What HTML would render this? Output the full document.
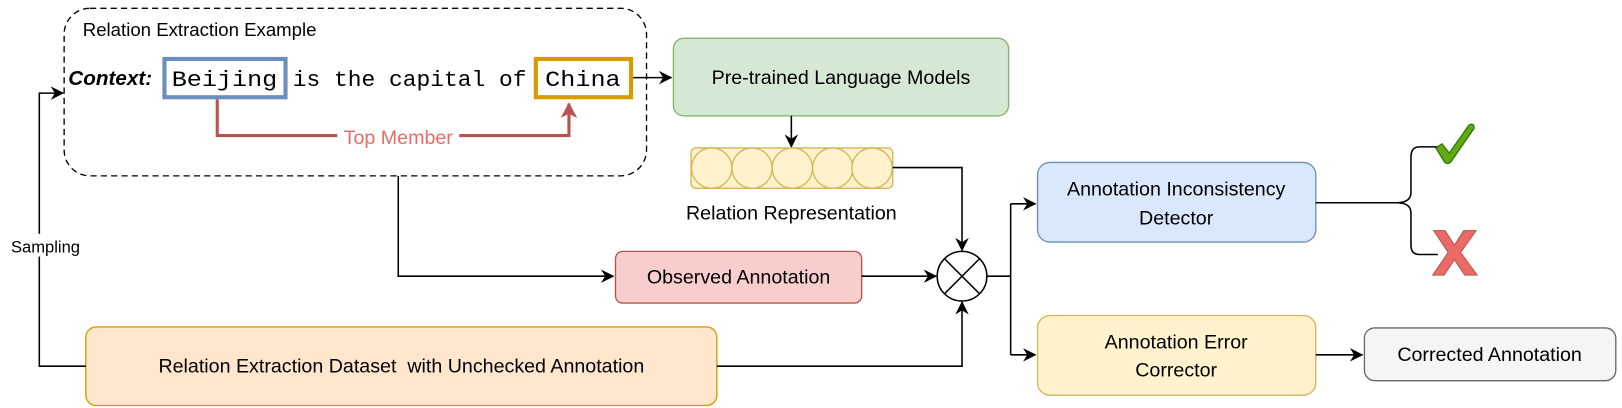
<!DOCTYPE html>
<html><head><meta charset="utf-8"><style>
html,body{margin:0;padding:0;background:#fff;width:1622px;height:408px;overflow:hidden}
svg{display:block}
text{font-family:"Liberation Sans",sans-serif;}
.m{font-family:"Liberation Mono",monospace}
</style></head><body>
<svg width="1622" height="408" viewBox="0 0 1568 394.4" xmlns="http://www.w3.org/2000/svg">
<defs>
<marker id="a" markerWidth="13" markerHeight="13" refX="12" refY="6.5" orient="auto" markerUnits="userSpaceOnUse"><path d="M0,0 L13,6.5 L0,13 L4,6.5 Z" fill="#000"/></marker>
<marker id="r" markerWidth="16" markerHeight="16" refX="14" refY="8" orient="auto" markerUnits="userSpaceOnUse"><path d="M0,0 L15,8 L0,16 L4,8 Z" fill="#b85450"/></marker>
</defs>
<rect x="62" y="8" width="563" height="162" rx="25" fill="none" stroke="#000" stroke-width="1.3" stroke-dasharray="6,4"/>
<text x="80" y="35" font-size="18">Relation Extraction Example</text>
<text x="66" y="82" font-size="20" font-weight="bold" font-style="italic">Context:</text>
<rect x="159" y="57" width="117" height="37" fill="#fff" stroke="#6c8ebf" stroke-width="4"/>
<rect x="518" y="57" width="92" height="37" fill="#fff" stroke="#d79b00" stroke-width="4"/>
<text x="166" y="83" font-size="21" class="m" textLength="102" lengthAdjust="spacingAndGlyphs">Beijing</text>
<text x="283" y="83" font-size="21" class="m" textLength="226" lengthAdjust="spacingAndGlyphs">is the capital of</text>
<text x="527" y="83" font-size="21" class="m" textLength="73" lengthAdjust="spacingAndGlyphs">China</text>
<path d="M210,96 V131 H550 V100" fill="none" stroke="#b85450" stroke-width="3" marker-end="url(#r)"/>
<rect x="326" y="120" width="118" height="22" fill="#fff"/>
<text x="385" y="139" font-size="19" fill="#ea6b66" text-anchor="middle">Top Member</text>
<path d="M612,75 H649" stroke="#000" stroke-width="1.5" marker-end="url(#a)"/>
<rect x="651" y="37" width="324" height="75" rx="10" fill="#d5e8d4" stroke="#82b366" stroke-width="1.3"/>
<text x="813" y="81" font-size="19" text-anchor="middle">Pre-trained Language Models</text>
<path d="M765,112 V142" stroke="#000" stroke-width="1.5" marker-end="url(#a)"/>
<rect x="668" y="143" width="195" height="39" rx="5" fill="#fff2cc" stroke="#d6b656" stroke-width="1.3"/>
<g fill="#fff2cc" stroke="#d6b656" stroke-width="1.3">
<circle cx="688" cy="162.5" r="19.5"/><circle cx="727" cy="162.5" r="19.5"/><circle cx="766" cy="162.5" r="19.5"/><circle cx="805" cy="162.5" r="19.5"/><circle cx="843" cy="162.5" r="19.5"/>
</g>
<text x="765" y="212" font-size="19" text-anchor="middle">Relation Representation</text>
<path d="M863,162 H930 V242" fill="none" stroke="#000" stroke-width="1.5" marker-end="url(#a)"/>
<circle cx="930" cy="267" r="24" fill="#fff" stroke="#000" stroke-width="1.5"/>
<path d="M913,250 L947,284 M947,250 L913,284" stroke="#000" stroke-width="1.5"/>
<path d="M385,170 V267 H593" fill="none" stroke="#000" stroke-width="1.5" marker-end="url(#a)"/>
<rect x="595" y="243" width="238" height="50" rx="7" fill="#f8cecc" stroke="#b85450" stroke-width="1.3"/>
<text x="714" y="274" font-size="19" text-anchor="middle">Observed Annotation</text>
<path d="M833,267 H905" stroke="#000" stroke-width="1.5" marker-end="url(#a)"/>
<rect x="83" y="316" width="610" height="76" rx="10" fill="#ffe6cc" stroke="#d79b00" stroke-width="1.3"/>
<text x="388" y="360" font-size="19" text-anchor="middle" xml:space="preserve">Relation Extraction Dataset  with Unchecked Annotation</text>
<path d="M693,354 H930 V292" fill="none" stroke="#000" stroke-width="1.5" marker-end="url(#a)"/>
<path d="M83,354 H38 V90 H61" fill="none" stroke="#000" stroke-width="1.5" marker-end="url(#a)"/>
<rect x="0" y="226" width="90" height="22" fill="#fff"/>
<text x="44" y="244" font-size="16" text-anchor="middle">Sampling</text>
<path d="M954,267 H977" stroke="#000" stroke-width="1.5"/>
<path d="M977,197 V343" stroke="#000" stroke-width="1.5"/>
<path d="M977,197 H1001" stroke="#000" stroke-width="1.5" marker-end="url(#a)"/>
<path d="M977,343 H1001" stroke="#000" stroke-width="1.5" marker-end="url(#a)"/>
<rect x="1003" y="157" width="269" height="77" rx="12" fill="#dae8fc" stroke="#6c8ebf" stroke-width="1.3"/>
<text x="1137" y="189" font-size="19" text-anchor="middle">Annotation Inconsistency</text>
<text x="1137" y="217" font-size="19" text-anchor="middle">Detector</text>
<path d="M1272,196 H1350" stroke="#000" stroke-width="1.5"/>
<path d="M1390,142 H1372 Q1364,142 1364,152 V186 Q1364,196 1350,196 Q1364,196 1364,206 V237 Q1364,246 1372,246 H1390" fill="none" stroke="#000" stroke-width="1.5"/>
<path d="M1388,143 L1394,139 L1401,148 L1420,121 Q1425,118 1425,124 L1403,156 Q1399,160 1396,156 Z" fill="#60a917" stroke="#2d7600" stroke-width="1.2"/>
<path d="M1386,223 H1397 L1406,237 L1415,223 H1427 L1412,244 L1428,266 H1416 L1406,251 L1396,266 H1385 L1400,244 Z" fill="#ea6b66" stroke="#b85450" stroke-width="1"/>
<rect x="1003" y="305" width="269" height="77" rx="12" fill="#fff2cc" stroke="#d6b656" stroke-width="1.3"/>
<text x="1137" y="337" font-size="19" text-anchor="middle">Annotation Error</text>
<text x="1137" y="364" font-size="19" text-anchor="middle">Corrector</text>
<path d="M1272,343 H1317" stroke="#000" stroke-width="1.5" marker-end="url(#a)"/>
<rect x="1319" y="317" width="243" height="51" rx="10" fill="#f5f5f5" stroke="#666" stroke-width="1.3"/>
<text x="1440" y="349" font-size="19" text-anchor="middle">Corrected Annotation</text>
</svg>
</body></html>
